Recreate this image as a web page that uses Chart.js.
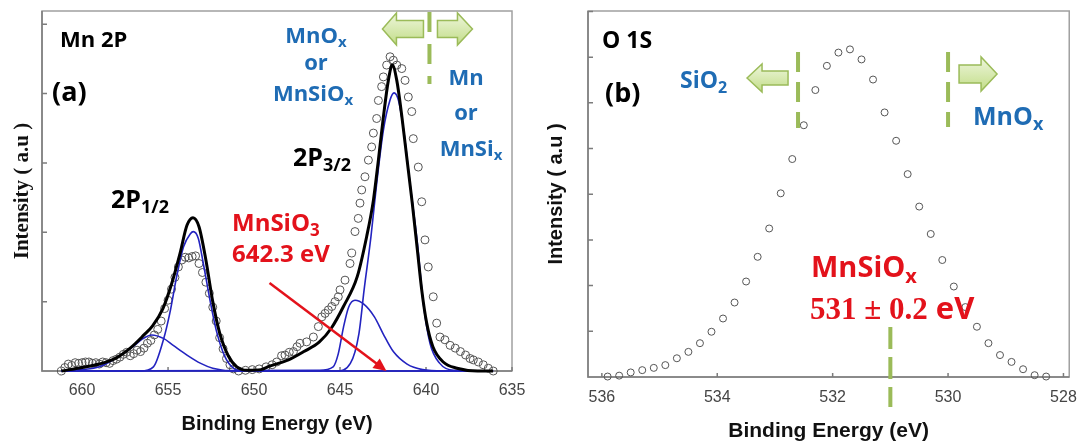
<!DOCTYPE html>
<html>
<head>
<meta charset="utf-8">
<script src="https://cdn.jsdelivr.net/npm/chart.js@4.4.1/dist/chart.umd.min.js"></script>
<style>
  html, body { margin: 0; padding: 0; background: #fff; }
  #wrapA { position: absolute; left: 0; top: 0; width: 540px; height: 448px; }
  #wrapB { position: absolute; left: 540px; top: 0; width: 548px; height: 448px; }
</style>
</head>
<body>
<div id="wrapA"><canvas id="mnChart"></canvas></div>
<div id="wrapB"><canvas id="oChart"></canvas></div>
<script>
// ---- Mn 2P : measured points ----
const mnE = [661.2, 661.0, 660.8, 660.6, 660.4, 660.2, 660.0, 659.8, 659.6, 659.4, 659.2, 659.0, 658.8, 658.6, 658.4, 658.2, 658.0, 657.8, 657.6, 657.4,
  657.2, 657.0, 656.8, 656.6, 656.4, 656.2, 656.0, 655.8, 655.6, 655.4, 655.2, 655.0, 654.8, 654.6, 654.4, 654.2, 654.0, 653.8, 653.6, 653.4,
  653.2, 653.0, 652.8, 652.6, 652.4, 652.2, 652.0, 651.8, 651.6, 651.4, 651.2, 650.9, 650.5, 650.1, 649.7, 649.3, 648.95, 648.68, 648.4, 648.2,
  647.95, 647.71, 647.5, 647.33, 646.94, 646.55, 646.26, 646.06, 645.87, 645.68, 645.48, 645.29, 645.1, 645.0, 644.71, 644.42, 644.32, 644.13, 643.94, 643.84,
  643.74, 643.55, 643.35, 643.16, 643.06, 642.87, 642.77, 642.58, 642.48, 642.29, 642.09, 641.9, 641.7, 641.41, 641.22, 641.03, 640.83, 640.74, 640.45, 640.25,
  640.06, 639.87, 639.58, 639.38, 639.19, 638.9, 638.6, 638.3, 638.0, 637.7, 637.44, 637.25, 636.96, 636.67, 636.38, 636.09];
const mnI = [0.00, 0.05, 0.10, 0.08, 0.12, 0.11, 0.12, 0.13, 0.13, 0.11, 0.12, 0.10, 0.13, 0.12, 0.11, 0.15, 0.17, 0.20, 0.24, 0.27,
  0.22, 0.25, 0.30, 0.28, 0.33, 0.40, 0.44, 0.52, 0.60, 0.72, 0.90, 1.02, 1.18, 1.35, 1.50, 1.60, 1.64, 1.63, 1.65, 1.66,
  1.55, 1.42, 1.28, 1.12, 0.92, 0.72, 0.48, 0.32, 0.18, 0.09, 0.03, 0.00, 0.01, 0.02, 0.03, 0.06, 0.09, 0.13, 0.22, 0.23,
  0.27, 0.28, 0.35, 0.40, 0.42, 0.49, 0.64, 0.78, 0.83, 0.88, 0.93, 1.00, 1.07, 1.17, 1.31, 1.55, 1.70, 2.01, 2.20, 2.42,
  2.61, 2.80, 3.04, 3.23, 3.43, 3.64, 3.90, 4.10, 4.24, 4.41, 4.53, 4.48, 4.41, 4.36, 4.19, 3.95, 3.74, 3.35, 2.94, 2.44,
  1.89, 1.50, 1.07, 0.69, 0.49, 0.45, 0.37, 0.33, 0.28, 0.23, 0.18, 0.16, 0.13, 0.09, 0.04, 0.00];

// fitted envelope
const fitE = [661.2, 660.0, 659.0, 658.0, 657.2, 656.4, 655.9, 655.3, 654.8, 654.3, 653.9, 653.55, 653.2, 652.8, 652.4, 652.0, 651.5, 651.0, 650.4, 649.6,
  649.1, 648.0, 647.1, 646.2, 645.5, 644.8, 644.0, 643.45, 643.06, 642.77, 642.48, 642.19, 641.96, 641.7, 641.4, 641.1, 640.8, 640.5, 640.25, 639.96,
  639.6, 639.0, 638.2, 637.0, 636.1];
const fitI = [0.00, 0.05, 0.10, 0.19, 0.33, 0.52, 0.65, 0.90, 1.25, 1.70, 2.10, 2.21, 2.08, 1.60, 1.00, 0.55, 0.22, 0.06, 0.01, 0.02,
  0.07, 0.16, 0.28, 0.42, 0.62, 0.93, 1.36, 1.94, 2.46, 3.04, 3.66, 4.19, 4.41, 4.19, 3.66, 3.04, 2.42, 1.74, 1.17, 0.69,
  0.35, 0.13, 0.04, 0.00, 0.00];

// fitted components
const p12E = [661.2, 656.6, 655.85, 655.27, 654.9, 654.5, 654.1, 653.7, 653.53, 653.24, 652.95, 652.56, 652.2, 651.7, 651.2, 650.6, 636.1];
const p12I = [0, 0, 0.06, 0.45, 0.83, 1.36, 1.79, 1.98, 2.01, 1.91, 1.55, 1.02, 0.59, 0.21, 0.04, 0, 0];
const p12bE = [661.2, 660.0, 659.0, 658.0, 657.0, 656.5, 655.95, 655.27, 654.7, 653.9, 653.1, 652.4, 651.2, 636.1];
const p12bI = [0, 0.02, 0.06, 0.19, 0.36, 0.46, 0.52, 0.47, 0.37, 0.23, 0.11, 0.04, 0, 0];
const p32E = [661.2, 645.2, 644.4, 643.9, 643.6, 643.2, 642.87, 642.48, 642.1, 641.86, 641.6, 641.3, 640.93, 640.5, 640.16, 639.77, 639.2, 638.4, 636.1];
const p32I = [0, 0, 0.11, 0.54, 1.17, 1.94, 2.70, 3.47, 3.90, 4.01, 3.90, 3.47, 2.70, 1.84, 0.98, 0.40, 0.11, 0.01, 0];
const p32bE = [661.2, 646.2, 645.4, 645.1, 644.8, 644.5, 644.13, 643.6, 643.0, 642.5, 641.9, 641.1, 640.2, 639.0, 636.1];
const p32bI = [0, 0.01, 0.06, 0.25, 0.63, 0.92, 1.02, 0.96, 0.78, 0.54, 0.28, 0.10, 0.02, 0, 0];

const mnXTicks = [660, 655, 650, 645, 640, 635];
const mnYTicks = [0, 1, 2, 3, 4, 5];
const mnDivide = 639.8;    // oxide | metal boundary
const mnSiO3Peak = 642.3;  // eV

// ---- O 1S ----
const oE = [535.9, 535.7, 535.5, 535.3, 535.1, 534.9, 534.7, 534.5, 534.3, 534.1, 533.9, 533.7, 533.5, 533.3, 533.1, 532.9, 532.7, 532.5, 532.3, 532.1,
  531.9, 531.7, 531.5, 531.3, 531.1, 530.9, 530.7, 530.5, 530.3, 530.1, 529.9, 529.7, 529.5, 529.3, 529.1, 528.9, 528.7, 528.5, 528.3];
const oI = [0.01, 0.03, 0.10, 0.15, 0.20, 0.26, 0.41, 0.55, 0.74, 0.99, 1.28, 1.63, 2.09, 2.63, 3.25, 4.02, 4.77, 5.51, 6.28, 6.81,
  7.10, 7.17, 6.95, 6.51, 5.79, 5.17, 4.44, 3.73, 3.13, 2.56, 1.98, 1.53, 1.10, 0.74, 0.48, 0.33, 0.17, 0.04, 0.01];
const oXTicks = [536, 534, 532, 530, 528];
const oYTicks = [0, 1, 2, 3, 4, 5, 6, 7, 8];
const oSiO2Edge = 532.6;
const oMnOxEdge = 530.0;
const oMnSiOx = 531;

const GREEN = '#9bbb59';
const BLUE_TXT = '#1f6cb4';
const RED = '#e3121b';
const SANS = '"Open Sans", sans-serif';
const SERIF = '"Liberation Serif", serif';

const pts = (xs, ys) => xs.map((x, i) => ({ x, y: ys[i] }));

// bold label made of normal and subscript pieces: [text, isSub, family]
function richText(ctx, x, y, parts, size, color, align) {
  const subSize = Math.round(size * 0.7);
  ctx.save();
  ctx.fillStyle = color || '#000';
  ctx.textBaseline = 'alphabetic';
  ctx.textAlign = 'left';
  const fontOf = p => `bold ${p[1] ? subSize : size}px ${p[2] || SANS}`;
  const w = parts.map(p => { ctx.font = fontOf(p); return ctx.measureText(p[0]).width; });
  let cx = align === 'center' ? x - w.reduce((a, b) => a + b, 0) / 2 : x;
  parts.forEach((p, i) => {
    ctx.font = fontOf(p);
    ctx.fillText(p[0], cx, p[1] ? y + Math.round(size * 0.2) : y);
    cx += w[i];
  });
  ctx.restore();
}

function blockArrow(ctx, tipX, cy, dir, len, headLen, headH, shaftH) {
  const tail = tipX - dir * len, base = tipX - dir * headLen;
  ctx.save();
  ctx.beginPath();
  ctx.moveTo(tipX, cy);
  ctx.lineTo(base, cy - headH / 2);
  ctx.lineTo(base, cy - shaftH / 2);
  ctx.lineTo(tail, cy - shaftH / 2);
  ctx.lineTo(tail, cy + shaftH / 2);
  ctx.lineTo(base, cy + shaftH / 2);
  ctx.lineTo(base, cy + headH / 2);
  ctx.closePath();
  const g = ctx.createLinearGradient(0, cy - headH / 2, 0, cy + headH / 2);
  g.addColorStop(0, '#eef6dc');
  g.addColorStop(1, '#c2dd88');
  ctx.fillStyle = g;
  ctx.fill();
  ctx.strokeStyle = GREEN;
  ctx.lineWidth = 1.5;
  ctx.stroke();
  ctx.restore();
}

function dashedV(ctx, x, y1, y2, dash) {
  ctx.save();
  ctx.strokeStyle = GREEN;
  ctx.lineWidth = 4;
  ctx.setLineDash(dash);
  ctx.beginPath();
  ctx.moveTo(x, y1);
  ctx.lineTo(x, y2);
  ctx.stroke();
  ctx.restore();
}

// frame and inward tick marks
const frameTicks = {
  id: 'frameTicks',
  beforeDatasetsDraw(chart) {
    const { ctx, chartArea: a, scales: { x, y } } = chart;
    ctx.save();
    ctx.strokeStyle = '#a0a0a0';
    ctx.lineWidth = 1.5;
    ctx.strokeRect(a.left, a.top, a.right - a.left, a.bottom - a.top);
    ctx.strokeStyle = '#7c7c7c';
    ctx.beginPath();
    ctx.moveTo(a.left, a.top);
    ctx.lineTo(a.left, a.bottom);
    ctx.lineTo(a.right, a.bottom);
    x.ticks.forEach(t => {
      const px = x.getPixelForValue(t.value);
      ctx.moveTo(px, a.bottom);
      ctx.lineTo(px, a.bottom - 4);
    });
    y.ticks.forEach(t => {
      const py = y.getPixelForValue(t.value);
      ctx.moveTo(a.left, py);
      ctx.lineTo(a.left + 5, py);
    });
    ctx.stroke();
    ctx.restore();
  }
};

const mnNotes = {
  id: 'mnNotes',
  afterDraw(chart) {
    const { ctx, chartArea: a, scales: { x, y } } = chart;
    const dx = x.getPixelForValue(mnDivide);
    dashedV(ctx, dx, a.top + 1, 84, [20, 12]);
    blockArrow(ctx, dx - 47, 29, -1, 41, 14, 32, 17);
    blockArrow(ctx, dx + 43, 29, 1, 35, 15, 32, 17);

    richText(ctx, 60, 47, [['Mn 2P']], 22);
    richText(ctx, 52, 101, [['(a)']], 27);
    richText(ctx, 111, 208, [['2P'], ['1/2', true]], 25);
    richText(ctx, 293, 166, [['2P'], ['3/2', true]], 25);

    richText(ctx, 316, 43, [['MnO'], ['x', true]], 22, BLUE_TXT, 'center');
    richText(ctx, 316, 70, [['or']], 22, BLUE_TXT, 'center');
    richText(ctx, 313, 101, [['MnSiO'], ['x', true]], 22, BLUE_TXT, 'center');
    richText(ctx, 466, 85, [['Mn']], 22, BLUE_TXT, 'center');
    richText(ctx, 466, 120, [['or']], 22, BLUE_TXT, 'center');
    richText(ctx, 471, 156, [['MnSi'], ['x', true]], 22, BLUE_TXT, 'center');

    richText(ctx, 232, 231, [['MnSiO'], ['3', true]], 24, RED);
    richText(ctx, 232, 262, [['642.3 eV']], 24, RED);

    // pointer to the MnSiO3 position on the energy axis
    const x0 = x.getPixelForValue(649.1), y0 = y.getPixelForValue(1.27);
    const x1 = x.getPixelForValue(mnSiO3Peak), y1 = y.getPixelForValue(0);
    const ang = Math.atan2(y1 - y0, x1 - x0);
    ctx.save();
    ctx.strokeStyle = RED;
    ctx.fillStyle = RED;
    ctx.lineWidth = 2.5;
    ctx.beginPath();
    ctx.moveTo(x0, y0);
    ctx.lineTo(x1 - 10 * Math.cos(ang), y1 - 10 * Math.sin(ang));
    ctx.stroke();
    ctx.beginPath();
    ctx.moveTo(x1, y1);
    ctx.lineTo(x1 - 13 * Math.cos(ang) + 6 * Math.sin(ang), y1 - 13 * Math.sin(ang) - 6 * Math.cos(ang));
    ctx.lineTo(x1 - 13 * Math.cos(ang) - 6 * Math.sin(ang), y1 - 13 * Math.sin(ang) + 6 * Math.cos(ang));
    ctx.closePath();
    ctx.fill();
    ctx.restore();
  }
};

const oNotes = {
  id: 'oNotes',
  afterDraw(chart) {
    const { ctx, scales: { x, y } } = chart;
    const xs = x.getPixelForValue(oSiO2Edge);
    const xm = x.getPixelForValue(oMnOxEdge);
    dashedV(ctx, xs, 52, 128, [20, 10]);
    dashedV(ctx, xm, 52, 127, [20, 10]);
    blockArrow(ctx, xs - 51, 78, -1, 41, 15, 28, 14);
    blockArrow(ctx, xm + 49, 74, 1, 38, 16, 34, 18);
    const xc = x.getPixelForValue(oMnSiOx);
    dashedV(ctx, xc, 327, 407, [22, 8]);

    richText(ctx, 62, 48, [['O 1S']], 23);
    richText(ctx, 65, 102, [['(b)']], 27);
    richText(ctx, 140, 88, [['SiO'], ['2', true]], 23, BLUE_TXT);
    richText(ctx, 433, 125, [['MnO'], ['x', true]], 25, BLUE_TXT);
    richText(ctx, 271, 277, [['MnSiO'], ['x', true]], 29, RED);
    richText(ctx, 270, 319, [['531 \u00b1 0.2', false, SERIF], [' eV']], 31, RED);
  }
};

const tickFont = { family: '"Liberation Sans", Arial, sans-serif', size: 16 };

const mnChart = new Chart(document.getElementById('mnChart').getContext('2d'), {
  type: 'scatter',
  data: {
    datasets: [
      { label: 'Fit', data: pts(fitE, fitI), showLine: true, borderColor: '#000', borderWidth: 3, pointRadius: 0,
        cubicInterpolationMode: 'monotone', order: 1, clip: false },
      { label: '2P1/2', data: pts(p12E, p12I), showLine: true, borderColor: '#2323c0', borderWidth: 1.6, pointRadius: 0,
        cubicInterpolationMode: 'monotone', order: 2, clip: false },
      { label: '2P1/2 b', data: pts(p12bE, p12bI), showLine: true, borderColor: '#2323c0', borderWidth: 1.6, pointRadius: 0,
        cubicInterpolationMode: 'monotone', order: 2, clip: false },
      { label: '2P3/2', data: pts(p32E, p32I), showLine: true, borderColor: '#2323c0', borderWidth: 1.6, pointRadius: 0,
        cubicInterpolationMode: 'monotone', order: 2, clip: false },
      { label: '2P3/2 b', data: pts(p32bE, p32bI), showLine: true, borderColor: '#2323c0', borderWidth: 1.6, pointRadius: 0,
        cubicInterpolationMode: 'monotone', order: 2, clip: false },
      { label: 'Data', data: pts(mnE, mnI), pointRadius: 4, pointBorderColor: '#555', pointBorderWidth: 1,
        pointBackgroundColor: 'rgba(255,255,255,0)', order: 3, clip: false }
    ]
  },
  options: {
    responsive: true, maintainAspectRatio: false, animation: false, devicePixelRatio: 1, events: [],
    layout: { padding: { top: 11, right: 28, left: 0, bottom: 0 } },
    plugins: { legend: { display: false }, tooltip: { enabled: false } },
    scales: {
      x: {
        type: 'linear', reverse: true, min: 635, max: 662.33,
        afterBuildTicks: s => { s.ticks = mnXTicks.map(v => ({ value: v })); },
        afterFit: s => { s.height = 77; },
        grid: { display: false, drawTicks: false }, border: { display: false },
        ticks: { color: '#454545', font: tickFont, padding: 10, callback: v => v },
        title: { display: true, text: 'Binding Energy (eV)', color: '#111',
          font: { family: '"Liberation Sans", Arial, sans-serif', size: 20, weight: 'bold' }, padding: { top: 0, bottom: 12 } }
      },
      y: {
        type: 'linear', min: 0, max: 5.19,
        afterBuildTicks: s => { s.ticks = mnYTicks.map(v => ({ value: v })); },
        afterFit: s => { s.width = 42; },
        grid: { display: false, drawTicks: false }, border: { display: false },
        ticks: { display: false },
        title: { display: true, text: 'Intensity ( a.u )', color: '#111',
          font: { family: SERIF, size: 21, weight: 'bold' }, padding: { top: 10, bottom: 0 } }
      }
    }
  },
  plugins: [frameTicks, mnNotes]
});

const oChart = new Chart(document.getElementById('oChart').getContext('2d'), {
  type: 'scatter',
  data: {
    datasets: [
      { label: 'O 1S', data: pts(oE, oI), pointRadius: 3.5, pointBorderColor: '#555', pointBorderWidth: 1,
        pointBackgroundColor: 'rgba(255,255,255,0)', clip: false }
    ]
  },
  options: {
    responsive: true, maintainAspectRatio: false, animation: false, devicePixelRatio: 1, events: [],
    layout: { padding: { top: 11, right: 16, left: 0, bottom: 0 } },
    plugins: { legend: { display: false }, tooltip: { enabled: false } },
    scales: {
      x: {
        type: 'linear', reverse: true, min: 527.9, max: 536.24,
        afterBuildTicks: s => { s.ticks = oXTicks.map(v => ({ value: v })); },
        afterFit: s => { s.height = 71; },
        grid: { display: false, drawTicks: false }, border: { display: false },
        ticks: { color: '#454545', font: tickFont, padding: 11, callback: v => v },
        title: { display: true, text: 'Binding Energy (eV)', color: '#111',
          font: { family: '"Liberation Sans", Arial, sans-serif', size: 21, weight: 'bold' }, padding: { top: 0, bottom: 4 } }
      },
      y: {
        type: 'linear', min: 0, max: 8.01,
        afterBuildTicks: s => { s.ticks = oYTicks.map(v => ({ value: v })); },
        afterFit: s => { s.width = 48; },
        grid: { display: false, drawTicks: false }, border: { display: false },
        ticks: { display: false },
        title: { display: true, text: 'Intensity ( a.u )', color: '#111',
          font: { family: '"Liberation Sans", Arial, sans-serif', size: 20, weight: 'bold' }, padding: { top: 4, bottom: 0 } }
      }
    }
  },
  plugins: [frameTicks, oNotes]
});
</script>
</body>
</html>
